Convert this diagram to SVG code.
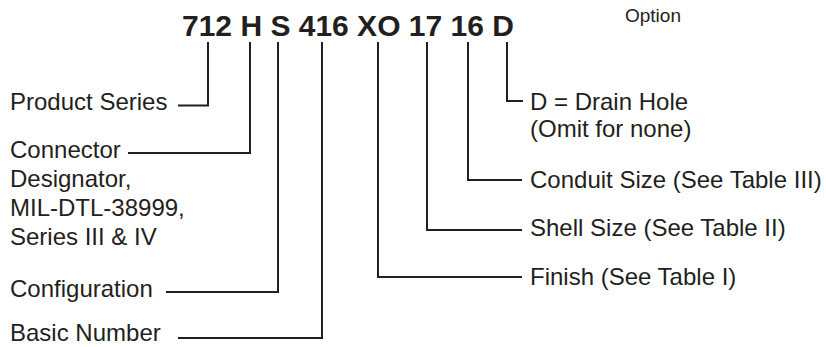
<svg xmlns="http://www.w3.org/2000/svg" width="826" height="347" viewBox="0 0 826 347">
<style>
.t{font-family:"Liberation Sans",Arial,sans-serif;font-size:24px;fill:#231f20}
.title{font-family:"Liberation Sans",Arial,sans-serif;font-size:30px;font-weight:bold;fill:#231f20}
.opt{font-family:"Liberation Sans",Arial,sans-serif;font-size:19px;fill:#231f20}
.c{fill:none;stroke:#231f20;stroke-width:2}
</style>
<rect width="826" height="347" fill="#ffffff"/>
<g id="title"><text class="title" x="182" y="36">712 H S 416 XO 17 16 D</text></g>
<g id="option"><text class="opt" x="625" y="22">Option</text></g>
<g id="connectors">
<path class="c" d="M178,105.5 H208 V42"/>
<path class="c" d="M128,153 H250 V42"/>
<path class="c" d="M166,292 H278 V42"/>
<path class="c" d="M178,338 H322 V42"/>
<path class="c" d="M522,277 H378 V42"/>
<path class="c" d="M522,230 H427 V42"/>
<path class="c" d="M522,180 H468 V42"/>
<path class="c" d="M523,101 H507 V42"/>
</g>
<g id="product-series"><text class="t" x="10" y="110">Product Series</text></g>
<g id="connector-designator"><text class="t" x="10" y="158">Connector</text><text class="t" x="10" y="187">Designator,</text><text class="t" x="10" y="216">MIL-DTL-38999,</text><text class="t" x="10" y="245">Series III &amp; IV</text></g>
<g id="configuration"><text class="t" x="10" y="297">Configuration</text></g>
<g id="basic-number"><text class="t" x="10" y="341">Basic Number</text></g>
<g id="drain-hole"><text class="t" x="530" y="110">D = Drain Hole</text><text class="t" x="530" y="137">(Omit for none)</text></g>
<g id="conduit-size"><text class="t" x="530" y="188">Conduit Size (See Table III)</text></g>
<g id="shell-size"><text class="t" x="530" y="236">Shell Size (See Table II)</text></g>
<g id="finish"><text class="t" x="530" y="285">Finish (See Table I)</text></g>
</svg>
